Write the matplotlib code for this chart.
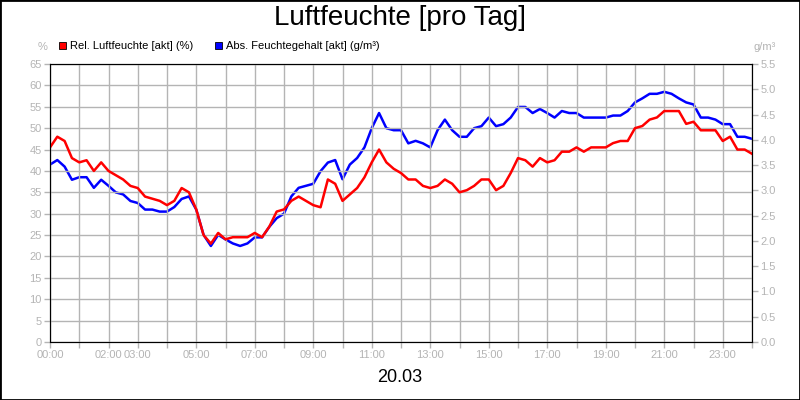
import numpy as np
import matplotlib
matplotlib.use('Agg')
import matplotlib.pyplot as plt
from matplotlib.patches import Rectangle

plt.rcParams['font.family'] = ['Liberation Sans', 'DejaVu Sans']

# 15-minute samples, 00:00 .. 24:00
rel_hum = [45.5, 48, 47, 43, 42, 42.5, 40, 42, 40, 39, 38, 36.5, 36, 34, 33.5, 33,
           32, 33, 36, 35, 31, 25, 23, 25.5, 24, 24.5, 24.5, 24.5, 25.5, 24.5, 27, 30.5,
           31, 33, 34, 33, 32, 31.5, 38, 37, 33, 34.5, 36, 38.5, 42, 45, 42, 40.5,
           39.5, 38, 38, 36.5, 36, 36.5, 38, 37, 35, 35.5, 36.5, 38, 38, 35.5, 36.5, 39.5,
           43, 42.5, 41, 43, 42, 42.5, 44.5, 44.5, 45.5, 44.5, 45.5, 45.5, 45.5, 46.5, 47, 47,
           50, 50.5, 52, 52.5, 54, 54, 54, 51, 51.5, 49.5, 49.5, 49.5, 47, 48, 45, 45, 44]
abs_hum = [3.51, 3.60, 3.47, 3.21, 3.26, 3.26, 3.05, 3.21, 3.09, 2.96, 2.92, 2.79,
           2.75, 2.62, 2.62, 2.58, 2.58, 2.67, 2.83, 2.88, 2.62, 2.12, 1.90, 2.12,
           2.03, 1.95, 1.90, 1.95, 2.07, 2.07, 2.28, 2.45, 2.54, 2.88, 3.05, 3.09,
           3.13, 3.38, 3.55, 3.60, 3.22, 3.51, 3.64, 3.85, 4.23, 4.53, 4.23, 4.19,
           4.19, 3.93, 3.98, 3.93, 3.85, 4.19, 4.40, 4.19, 4.06, 4.06, 4.23, 4.27,
           4.44, 4.27, 4.31, 4.44, 4.65, 4.65, 4.53, 4.61, 4.53, 4.44, 4.57, 4.53,
           4.53, 4.44, 4.44, 4.44, 4.44, 4.48, 4.48, 4.57, 4.74, 4.82, 4.91, 4.91,
           4.95, 4.91, 4.82, 4.74, 4.70, 4.44, 4.44, 4.40, 4.31, 4.31, 4.06, 4.06, 4.02]
hour_labels = {0: '00:00', 2: '02:00', 3: '03:00', 5: '05:00', 7: '07:00', 9: '09:00',
               11: '11:00', 13: '13:00', 15: '15:00', 17: '17:00', 19: '19:00',
               21: '21:00', 23: '23:00'}

hours = np.arange(len(rel_hum)) * 0.25
grey = '#b4b4b4'

fig = plt.figure(figsize=(8, 4), dpi=100)
fig.patches.append(Rectangle((0, 0), 1, 1, transform=fig.transFigure, fill=False,
                             edgecolor='black', lw=2))
ax = fig.add_axes([0.0625, 0.145, 0.8775, 0.695])
ax2 = ax.twinx()

ax.plot(hours, rel_hum, color='#ff0000', lw=1.8)
ax2.plot(hours, abs_hum, color='#0000ff', lw=1.8)
ax.set_zorder(ax2.get_zorder() + 1)
ax.patch.set_visible(False)

ax.set_xlim(0, 24)
ax.set_ylim(0, 65)
ax2.set_ylim(0, 5.5)
ax.set_yticks(np.arange(0, 66, 5))
ax2.set_yticks(np.arange(0, 5.6, 0.5))
ax2.set_yticklabels(['%.1f' % v for v in np.arange(0, 5.6, 0.5)])
ax.set_xticks(range(25))
ax.set_xticklabels([hour_labels.get(h, '') for h in range(25)])
ax.grid(True, color=grey, lw=1)
for a in (ax, ax2):
    a.tick_params(colors=grey, labelsize=8, length=4, width=1, pad=2)
    for s in a.spines.values():
        s.set_color('black')

fig.text(0.5, 0.955, 'Luftfeuchte [pro Tag]', ha='center', va='center', fontsize=20)
fig.text(0.5, 0.055, '20.03', ha='center', va='center', fontsize=13)
fig.text(0.053, 0.882, '%', ha='center', va='center', fontsize=8, color=grey)
fig.text(0.956, 0.882, 'g/m³', ha='center', va='center', fontsize=8, color=grey)

for x0, col, lab in [(0.074, '#ff0000', 'Rel. Luftfeuchte [akt] (%)'),
                     (0.269, '#0000ff', 'Abs. Feuchtegehalt [akt] (g/m³)')]:
    fig.patches.append(Rectangle((x0, 0.877), 0.009, 0.018, transform=fig.transFigure,
                                 facecolor=col, edgecolor='black', lw=0.6))
    fig.text(x0 + 0.014, 0.886, lab, va='center', fontsize=8)

fig.savefig('out.png', dpi=100)
